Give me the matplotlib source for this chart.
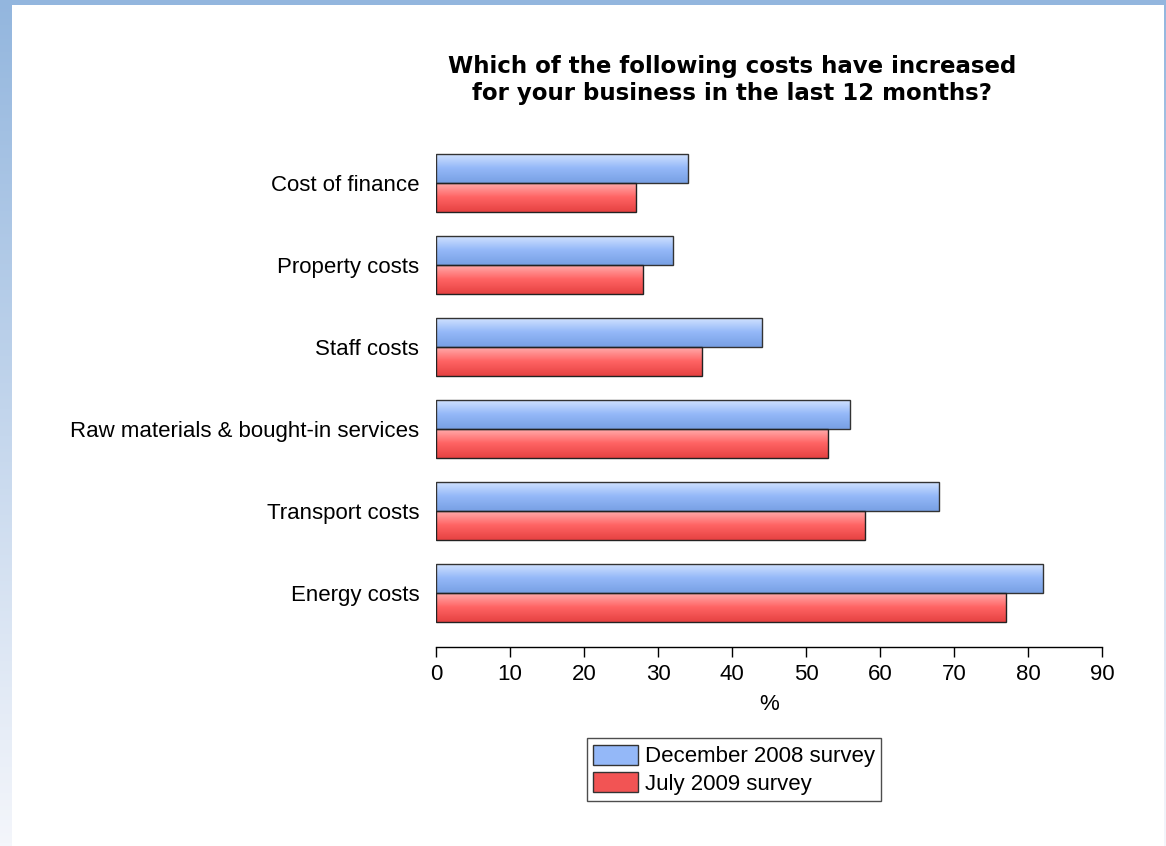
import numpy as np
import matplotlib.pyplot as plt
from matplotlib.colors import LinearSegmentedColormap
from matplotlib.patches import Rectangle

categories = ['Energy costs', 'Transport costs', 'Raw materials & bought-in services',
              'Staff costs', 'Property costs', 'Cost of finance']
dec_2008 = [82, 68, 56, 44, 32, 34]
jul_2009 = [77, 58, 53, 36, 28, 27]
x_ticks = [0, 10, 20, 30, 40, 50, 60, 70, 80, 90]

title = 'Which of the following costs have increased\nfor your business in the last 12 months?'

plt.rcParams['font.family'] = ['Liberation Sans', 'DejaVu Sans']

fig = plt.figure(figsize=(11.66, 8.46), dpi=100)

# blue frame fading towards the bottom, white page on top of it
bg = fig.add_axes([0, 0, 1, 1], zorder=-10)
bg.set_axis_off()
frame_cmap = LinearSegmentedColormap.from_list('frame', ['#93b6de', '#f4f6fb'])
bg.imshow(np.linspace(0, 1, 256).reshape(-1, 1), cmap=frame_cmap, aspect='auto',
          extent=[0, 1, 0, 1])
bg.add_patch(Rectangle((12 / 1166, 0), 1152 / 1166, 841 / 846, facecolor='white',
                       edgecolor='none'))
bg.set_xlim(0, 1)
bg.set_ylim(0, 1)

ax = fig.add_axes([436 / 1166, 1 - 647 / 846, 666 / 1166, 518 / 846])

y = np.arange(len(categories))
h = 0.354
blue_bars = ax.barh(y + h / 2, dec_2008, height=h, facecolor='#9bbcf4', edgecolor='#333333',
                    linewidth=1.0, label='December 2008 survey', zorder=3)
red_bars = ax.barh(y - h / 2, jul_2009, height=h, facecolor='#f46060', edgecolor='#222222',
                   linewidth=1.0, label='July 2009 survey', zorder=3)

# vertical gradient inside each bar
blue_cmap = LinearSegmentedColormap.from_list('b', ['#78a0e4', '#94b8f8', '#d4e4ff'])
red_cmap = LinearSegmentedColormap.from_list('r', ['#e64242', '#ff6464', '#ffb0b0'])
grad = np.linspace(0, 1, 64).reshape(-1, 1)
for bars, cmap in [(blue_bars, blue_cmap), (red_bars, red_cmap)]:
    for bar in bars:
        x0, y0 = bar.get_x(), bar.get_y()
        im = ax.imshow(grad, cmap=cmap, aspect='auto', origin='lower', zorder=2,
                       extent=[x0, x0 + bar.get_width(), y0, y0 + bar.get_height()])
        im.set_clip_path(bar)
        bar.set_facecolor('none')

fs = 16
ax.set_xlim(0, 90)
ax.set_ylim(-0.66, len(categories) - 1 + 0.66)
ax.set_xticks(x_ticks)
ax.set_yticks(y)
ax.set_yticklabels(categories, fontsize=fs)
ax.tick_params(axis='y', length=0, pad=12)
ax.tick_params(axis='x', direction='out', length=7, width=1, labelsize=fs, pad=5)
for side in ['top', 'right', 'left']:
    ax.spines[side].set_visible(False)
ax.spines['bottom'].set_linewidth(1.0)
ax.set_xlabel('%', fontsize=fs, labelpad=7)

fig.text(732 / 1166, 1 - 80 / 846, title, ha='center', va='center', fontsize=16.5,
         fontweight='bold', family='DejaVu Sans', linespacing=1.26)

handles = [Rectangle((0, 0), 1, 1, facecolor='#94b8f8', edgecolor='#333333'),
           Rectangle((0, 0), 1, 1, facecolor='#f25454', edgecolor='#333333')]
fig.legend(handles, ['December 2008 survey', 'July 2009 survey'],
           loc='upper center', bbox_to_anchor=(734 / 1166, 1 - 738 / 846),
           fontsize=fs, frameon=True, fancybox=False, edgecolor='#222222',
           handlelength=2.0, handleheight=1.0, handletextpad=0.3, borderpad=0.3,
           labelspacing=0.22, borderaxespad=0)

fig.savefig('out.png', dpi=100)
